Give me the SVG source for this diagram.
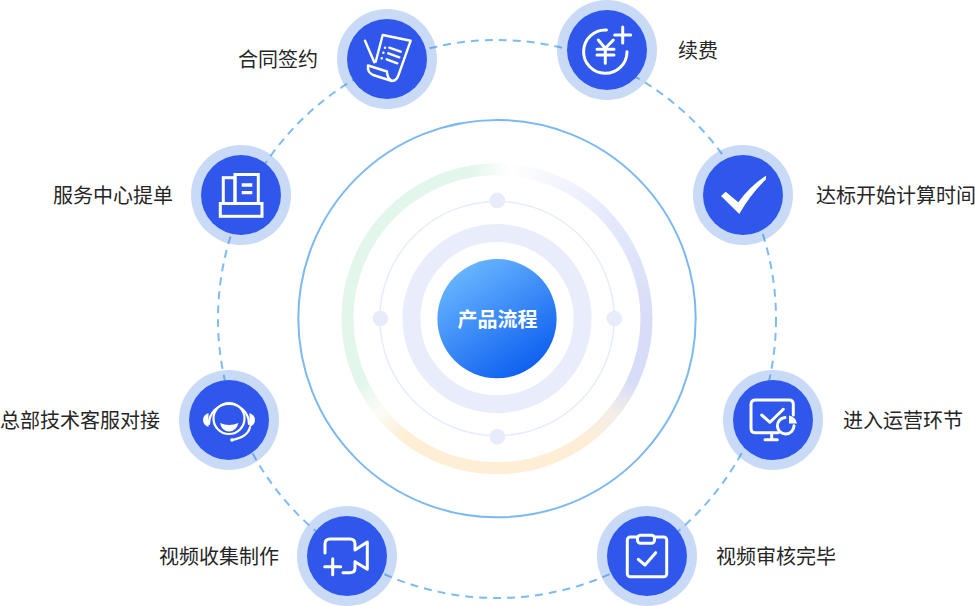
<svg xmlns="http://www.w3.org/2000/svg" width="975" height="606" viewBox="0 0 975 606">
<style>
.halo{fill:#4b84e1;fill-opacity:.3}
.disc{fill:#2f57ec}
.ico{fill:none;stroke:#fff;stroke-width:3;stroke-linecap:round;stroke-linejoin:round}
.sq{stroke-linecap:butt;stroke-linejoin:miter}
.solid{fill:#fff;stroke:none}
.lab{font-family:"Noto Sans CJK SC","Noto Sans",sans-serif;font-size:20px;fill:#262626}
.seg{fill:none;stroke-width:12}
.dot{fill:#e8ecfa}
</style>
<defs>
<linearGradient id="core" x1="0.22" y1="0.08" x2="0.78" y2="0.92"><stop offset="0" stop-color="#66b4ff"/><stop offset="1" stop-color="#0f60f0"/></linearGradient>
<linearGradient id="g1" gradientUnits="userSpaceOnUse" x1="471" y1="171.4" x2="510" y2="169.7"><stop offset="0" stop-color="#e2f6ec"/><stop offset="1" stop-color="#fff"/></linearGradient>
<linearGradient id="g2" gradientUnits="userSpaceOnUse" x1="510" y1="169.7" x2="611.5" y2="222.5"><stop offset="0" stop-color="#fff"/><stop offset="1" stop-color="#e4e8fb"/></linearGradient>
<linearGradient id="g3" gradientUnits="userSpaceOnUse" x1="611.5" y1="222.5" x2="646.5" y2="318.6"><stop offset="0" stop-color="#e4e8fb"/><stop offset="1" stop-color="#d7ddf8"/></linearGradient>
<linearGradient id="g4" gradientUnits="userSpaceOnUse" x1="632.5" y1="381.8" x2="611.5" y2="414.7"><stop offset="0" stop-color="#d7ddf8"/><stop offset="1" stop-color="#f5eee6"/></linearGradient>
<linearGradient id="g5" gradientUnits="userSpaceOnUse" x1="611.5" y1="414.7" x2="582.8" y2="441.1"><stop offset="0" stop-color="#f5eee6"/><stop offset="1" stop-color="#feeed6"/></linearGradient>
<linearGradient id="g6" gradientUnits="userSpaceOnUse" x1="405" y1="436.4" x2="379.2" y2="410.6"><stop offset="0" stop-color="#feeed6"/><stop offset="1" stop-color="#fbfcf8"/></linearGradient>
<linearGradient id="g7" gradientUnits="userSpaceOnUse" x1="379.2" y1="410.6" x2="361.5" y2="381.8"><stop offset="0" stop-color="#fbfcf8"/><stop offset="1" stop-color="#e2f6ec"/></linearGradient>
</defs>

<g id="center-rings">
<circle cx="497" cy="318.6" r="198.7" fill="none" stroke="#7cb9f0" stroke-width="2"/>
<g id="gradient-ring">
<path class="seg" stroke="#d7ddf8" d="M646.5,318.6A149.5,149.5 0 0 1 632.5,381.8"/>
<path class="seg" stroke="url(#g3)" d="M611.2,222.200A149.5,149.5 0 0 1 646.5,319.500"/>
<path class="seg" stroke="url(#g2)" d="M510,169.7A149.5,149.5 0 0 1 612,223"/>
<path class="seg" stroke="url(#g1)" d="M471,171.4A149.5,149.5 0 0 1 510.8,169.800"/>
<path class="seg" stroke="url(#g5)" d="M611.5,414.7A149.5,149.5 0 0 1 582.3,441.500"/>
<path class="seg" stroke="url(#g4)" d="M632.8,381.200A149.5,149.5 0 0 1 611,415.200"/>
<path class="seg" stroke="#feeed6" d="M583.5,440.600A149.5,149.5 0 0 1 405,436.4"/>
<path class="seg" stroke="url(#g6)" d="M405.6,437A149.5,149.5 0 0 1 379.2,410.6"/>
<path class="seg" stroke="url(#g7)" d="M379.7,411.200A149.5,149.5 0 0 1 361.5,381.8"/>
<path class="seg" stroke="#e2f6ec" d="M361.8,382.400A149.5,149.5 0 0 1 471.800,171.300"/>
</g>
<circle cx="497" cy="318.6" r="117.2" fill="none" stroke="#e6ecfc" stroke-width="1.5"/>
<circle class="dot" cx="497.3" cy="200.4" r="7.8"/>
<circle class="dot" cx="614.3" cy="318.6" r="7.8"/>
<circle class="dot" cx="497.3" cy="436.8" r="7.8"/>
<circle class="dot" cx="380.3" cy="318.6" r="7.8"/>
<circle cx="497" cy="318.6" r="85.6" fill="none" stroke="#e9edfb" stroke-width="18"/>
</g>

<g id="connectors">
<circle cx="497" cy="319" r="279" fill="none" stroke="#7dbcf2" stroke-width="2" stroke-dasharray="8 6"/>
</g>

<g id="center">
<circle cx="497" cy="318.7" r="59.6" fill="url(#core)"/>
<text x="497.5" y="327" text-anchor="middle" font-family="'Noto Sans CJK SC','Noto Sans',sans-serif" font-size="20" font-weight="700" fill="#fff">产品流程</text>
</g>

<g id="node-contract">
<circle class="halo" cx="387" cy="59" r="50"/><circle class="disc" cx="387" cy="59" r="40"/>
<g class="ico" style="stroke-width:2.400">
<path d="M375.7,61.7L382.7,35L410.7,40.7L398.5,75Q396,82 391,80.5"/>
<path d="M365,40.7L374.3,62.3"/>
<path d="M368,65.5L387,71.5Q387,78 392,81L373,75Q367,72 368,65.5Z"/>
<path d="M389.3,47.7L400.7,51.7M388.3,53.3L399.3,57.3M386.7,59.3L397.3,63.3"/>
<path d="M385,47.7h.1M383.3,52.7h.1M381.7,58.3h.1"/>
</g>
<text class="lab" x="238" y="67">合同签约</text>
</g>

<g id="node-renew">
<circle class="halo" cx="607" cy="50" r="50"/><circle class="disc" cx="607" cy="50" r="40"/>
<g class="ico">
<path d="M606.5,30A21.7,21.7 0 1 0 627,51.7"/>
<path d="M622.7,27V43M614.7,35H630.7"/>
<path d="M598.3,40L605.3,48.3L613.3,40M597,49.3H614M597,55H614M605.3,48.3V63.3"/>
</g>
<text class="lab" x="678" y="58">续费</text>
</g>

<g id="node-target">
<circle class="halo" cx="743" cy="195" r="50"/><circle class="disc" cx="743" cy="195" r="40"/>
<path class="solid" d="M721,196L725.7,191.7L738.3,202.3Q750,186 766,175.7V179.3Q750,195 739.3,214Z"/>
<text class="lab" x="816" y="203">达标开始计算时间</text>
</g>

<g id="node-enter">
<circle class="halo" cx="773" cy="420" r="50"/><circle class="disc" cx="773" cy="420" r="40"/>
<g class="ico">
<path d="M778.3,432.7H755Q751,432.7 751,428.3V404.3Q751,400 755.7,400H789Q793.3,400 793.3,404.3V415"/>
<path d="M771.7,433V439M765,439.7H777.3"/>
<path d="M761.7,415L770,422.3L783.3,409.3"/>
<path d="M785,417.4A8.3,8.3 0 1 0 794,425.7"/>
</g>
<path class="solid" d="M789,415.5A10,10 0 0 1 797,423.5L789,423.5Z"/>
<text class="lab" x="843" y="428">进入运营环节</text>
</g>

<g id="node-audit">
<circle class="halo" cx="647" cy="556" r="50"/><circle class="disc" cx="647" cy="556" r="40"/>
<g class="ico">
<rect x="627.3" y="537" width="39.4" height="39.7" rx="3"/>
<rect x="637.5" y="535.3" width="17" height="8" rx="3" fill="#2f57ec"/>
<path d="M638.3,559.3L645,565L655.7,552.7"/>
</g>
<text class="lab" x="716" y="564">视频审核完毕</text>
</g>

<g id="node-video">
<circle class="halo" cx="347" cy="556" r="50"/><circle class="disc" cx="347" cy="556" r="40"/>
<g class="ico">
<path d="M325,553V544Q325,539 330,539H350Q355,539 355,544V550L367.3,542V569.3L355,561.7V568Q355,572.7 350,572.7H343"/>
<path d="M332.7,558.7V574.7M324.7,566.7H340.7"/>
</g>
<text class="lab" x="159" y="564">视频收集制作</text>
</g>

<g id="node-support">
<circle class="halo" cx="229" cy="420" r="50"/><circle class="disc" cx="229" cy="420" r="40"/>
<g class="ico" style="stroke-width:2.200">
<path d="M209,424A20,20 0 1 1 249,424"/>
<circle cx="229" cy="418.5" r="15.5"/>
<path d="M250,427Q248,437 232,440"/>
</g>
<path class="solid" d="M208.5,413V427Q203,425 203,420Q203,415 208.5,413ZM249.5,413V427Q255,425 255,420Q255,415 249.5,413Z"/>
<path class="solid" d="M220,423Q229,427 238.500,423Q236,431.500 229,431.500Q222,431.500 220,423Z"/>
<circle class="solid" cx="232" cy="440" r="1.800"/>
<text class="lab" x="0" y="428">总部技术客服对接</text>
</g>

<g id="node-service">
<circle class="halo" cx="241" cy="195" r="50"/><circle class="disc" cx="241" cy="195" r="40"/>
<g class="ico sq">
<rect x="220.300" y="203.500" width="41.700" height="12.800"/>
<rect x="223.300" y="177.700" width="11.700" height="25.800"/>
<rect x="235" y="174.500" width="23.300" height="29"/>
</g>
<path class="solid" d="M241.700,183.300H252.300V186.700H241.700ZM241.700,191H252.300V194.300H241.700Z"/>
<text class="lab" x="53" y="203">服务中心提单</text>
</g>
</svg>
